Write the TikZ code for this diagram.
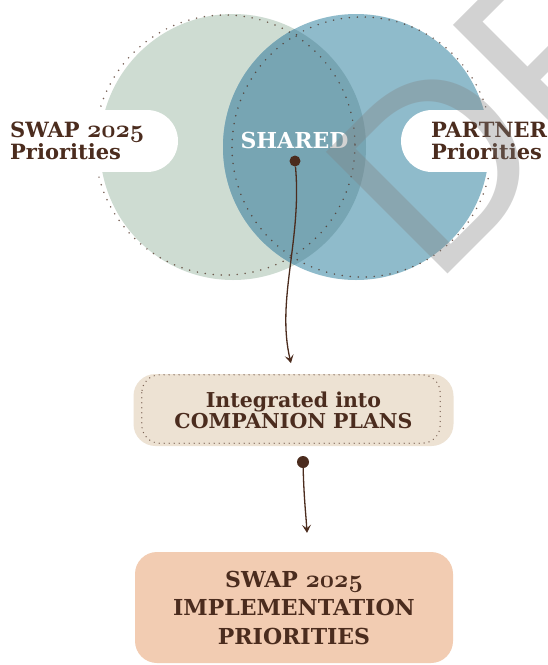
\documentclass[tikz,border=0pt]{standalone}
\usepackage{fontspec}
\newfontfamily\wmfont{Liberation Sans}
\newfontfamily\headfont{DejaVu Serif}
\usetikzlibrary{arrows.meta,calc}

\definecolor{sage}{RGB}{206,220,210}
\definecolor{lagoon}{RGB}{143,187,203}
\definecolor{lens}{RGB}{119,165,179}
\definecolor{ink}{RGB}{75,44,30}
\definecolor{beige}{RGB}{237,226,211}
\definecolor{peach}{RGB}{242,204,178}

% old-style bold figures
\newcommand\osdigits[1]{{\fontencoding{OML}\fontfamily{cmm}\fontseries{b}\fontshape{it}\selectfont\fontsize{25}{25}\selectfont #1}}

\begin{document}
\begin{tikzpicture}[x=1pt,y=-1pt,
  sidelabel/.style={font=\headfont\bfseries\fontsize{21}{22}\selectfont, text=ink, inner sep=0pt, align=left, anchor=west},
  dotring/.style={draw=ink, draw opacity=.75, line width=1.7pt, line cap=round, dash pattern=on 0pt off 8pt},
  dotframe/.style={draw=ink, draw opacity=.7, line width=1.4pt, line cap=round, dash pattern=on 0pt off 5pt},
  stepbox/.style={rounded corners=22pt, inner sep=0pt, align=center, text=ink},
  pin/.style={circle, fill=ink, inner sep=0pt, minimum size=#1},
  flow/.style={draw=ink, line width=1.3pt, -{Stealth[length=8pt,width=9pt,inset=3.5pt]}},
]
\useasboundingbox (0,0) rectangle (548,665);
\fill[white] (0,0) rectangle (548,665);
\begin{scope}
\clip (0,0) rectangle (548,665);

% the two priority circles and their overlap
\fill[sage] (233,147) circle[radius=133];
\fill[lagoon] (356,147) circle[radius=133];
\begin{scope}
  \clip (233,147) circle[radius=133];
  \fill[lens] (356,147) circle[radius=133];
\end{scope}
\draw[dotring] (225,145) circle[radius=130];
\draw[dotring] (362,147) circle[radius=130];

% label notches
\fill[white] (147,141) circle[radius=31];
\fill[white] (-5,110) rectangle (147,172);
\fill[white] (432,141) circle[radius=31];
\fill[white] (432,110) rectangle (553,172);

\node[sidelabel] (swaplbl) at (10,141) {SWAP \osdigits{2025}\\Priorities};
\node[sidelabel] (partnerlbl) at (431,141) {PARTNER\\Priorities};
\node[font=\headfont\bfseries\fontsize{22}{22}\selectfont, text=white, inner sep=0pt] (shared) at (294.5,140) {SHARED};

% flow below the overlap
\node[pin=11pt] (sdot) at (295,161) {};
\node[stepbox, fill=beige, minimum width=320pt, minimum height=72pt,
      font=\headfont\bfseries\fontsize{20.5}{21}\selectfont] (box1) at (293.5,410)
      {Integrated into\\COMPANION PLANS};
\node[draw=none, minimum width=298pt, minimum height=68pt, inner sep=0pt] (box1frame) at (291,409) {};
\draw[dotframe, rounded corners=18pt] (box1frame.north west) rectangle (box1frame.south east);
\node[pin=12pt] (idot) at (303,462) {};
\node[stepbox, fill=peach, minimum width=318pt, minimum height=111pt,
      font=\headfont\bfseries\fontsize{22}{28.5}\selectfont] (box2) at (294,607.5)
      {SWAP \osdigits{2025}\\IMPLEMENTATION\\PRIORITIES};
\coordinate (tipB) at ($(box2.north)+(13,-19)$);

\draw[flow, shorten >=11pt] (sdot) .. controls (302,240) and (276,300) .. (box1.north);
\draw[flow] (idot) .. controls (304,500) and (306,515) .. (tipB);

% watermark
\node[font=\wmfont\fontsize{250}{250}\selectfont, text=black!50, text opacity=.35,
      rotate=45, anchor=base west, inner sep=0pt] (draft) at (433,289) {DRAFT};
\end{scope}
\end{tikzpicture}
\end{document}
